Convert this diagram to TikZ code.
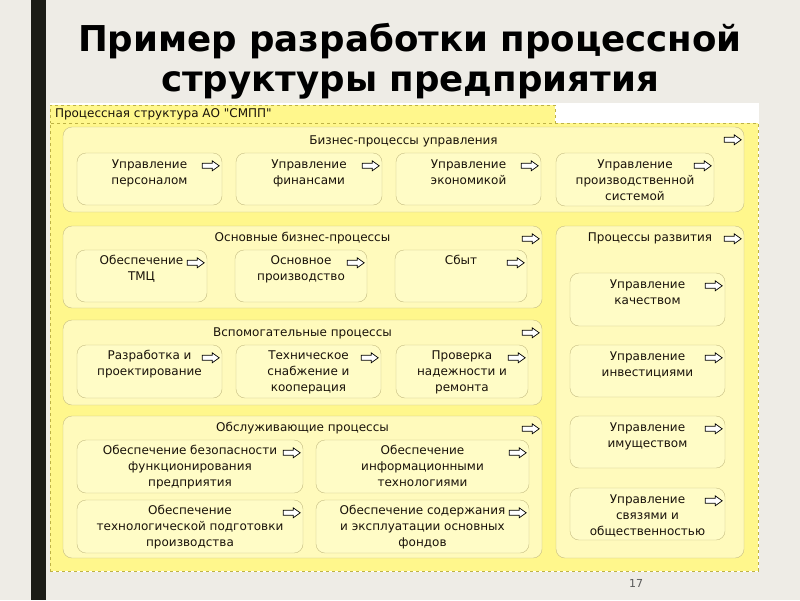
\documentclass[tikz,border=0pt]{standalone}
\usepackage{fontspec}
\setmainfont{DejaVu Sans}
\newfontfamily\tabfont{DejaVu Sans}
\usetikzlibrary{fit}
\definecolor{slidebg}{RGB}{238,236,230}
\definecolor{barcol}{RGB}{28,28,22}
\definecolor{bigyel}{RGB}{255,247,140}
\definecolor{dashcol}{RGB}{190,178,70}
\definecolor{grpfill}{RGB}{255,250,188}
\definecolor{boxfill}{RGB}{255,252,198}
\definecolor{grpline}{RGB}{196,188,130}
\definecolor{txtcol}{RGB}{25,18,10}
% small outlined arrow in the upper right corner of a process
\newcommand{\procarr}[1]{\draw[arr,shift={(#1.north east)}] (-3,13) -- (-10,8) -- (-10,10.5) -- (-20,10.5) -- (-20,15.5) -- (-10,15.5) -- (-10,18) -- cycle;}
\begin{document}
\begin{tikzpicture}[x=1pt,y=-1pt,
  grp/.style={draw=grpline,fill=grpfill,rounded corners=9pt,inner sep=0pt},
  box/.style={draw=grpline,fill=boxfill,rounded corners=9pt,inner sep=0pt},
  txt/.style={font=\fontsize{12}{16}\selectfont,text=txtcol,align=center,anchor=north,inner sep=0pt},
  ttl/.style={font=\fontsize{12}{16}\selectfont,text=txtcol,anchor=base,inner sep=0pt},
  arr/.style={draw=black,fill=white,line width=0.7pt}]
\useasboundingbox (0,0) rectangle (800,600);
\fill[slidebg] (0,0) rectangle (800,600);
\fill[barcol] (31,0) rectangle (46,600);
\node[font=\fontsize{35.6}{40}\selectfont\bfseries,align=center] (title) at (410,61) {Пример разработки процессной\\структуры предприятия};
\fill[white] (50,103) rectangle (759,572);

% outer frame with its tab
\node[fill=bigyel,draw=dashcol,dashed,inner sep=0pt,fit={(50,105)(555,123)}] (tab) {};
\node[fill=bigyel,draw=dashcol,dashed,inner sep=0pt,fit={(50,123)(758,571)}] (frame) {};
\node[font=\tabfont\fontsize{12}{14}\selectfont,text=txtcol,anchor=west,inner sep=0pt] (tabtxt) at ([xshift=5pt]tab.west) {Процессная структура АО "СМПП"};

% groups
\node[grp,fit={(63,127)(744,212)}] (g1) {};
\node[ttl] at ([yshift=-18pt]g1.north) {Бизнес-процессы управления};
\procarr{g1}
\node[grp,fit={(63,226)(542,308)}] (g2) {};
\node[ttl] at ([yshift=-16pt]g2.north) {Основные бизнес-процессы};
\procarr{g2}
\node[grp,fit={(63,320)(542,405)}] (g3) {};
\node[ttl] at ([yshift=-17pt]g3.north) {Вспомогательные процессы};
\procarr{g3}
\node[grp,fit={(63,416)(542,558)}] (g4) {};
\node[ttl] at ([yshift=-16pt]g4.north) {Обслуживающие процессы};
\procarr{g4}
\node[grp,fit={(556,226)(744,558)}] (g5) {};
\node[ttl] at ([yshift=-16pt]g5.north) {Процессы развития};
\procarr{g5}

% management
\node[box,fit={(77,153)(222,205)}] (b1) {};
\node[txt] at ([yshift=-6.5pt]b1.north) {Управление\\персоналом};
\node[box,fit={(236,153)(382,205)}] (b2) {};
\node[txt] at ([yshift=-6.5pt]b2.north) {Управление\\финансами};
\node[box,fit={(396,153)(541,205)}] (b3) {};
\node[txt] at ([yshift=-6.5pt]b3.north) {Управление\\экономикой};
\node[box,fit={(556,153)(714,206)}] (b4) {};
\node[txt] at ([yshift=-6.5pt]b4.north) {Управление\\производственной\\системой};

% main
\node[box,fit={(76,250)(207,302)}] (c1) {};
\node[txt] at ([yshift=-5.5pt]c1.north) {Обеспечение\\ТМЦ};
\node[box,fit={(235,250)(367,302)}] (c2) {};
\node[txt] at ([yshift=-5.5pt]c2.north) {Основное\\производство};
\node[box,fit={(395,250)(527,302)}] (c3) {};
\node[txt] at ([yshift=-5.5pt]c3.north) {Сбыт};

% support
\node[box,fit={(77,345)(222,398)}] (d1) {};
\node[txt] at ([yshift=-5.5pt]d1.north) {Разработка и\\проектирование};
\node[box,fit={(236,345)(381,398)}] (d2) {};
\node[txt] at ([yshift=-5.5pt]d2.north) {Техническое\\снабжение и\\кооперация};
\node[box,fit={(396,345)(528,398)}] (d3) {};
\node[txt] at ([yshift=-5.5pt]d3.north) {Проверка\\надежности и\\ремонта};

% service
\node[box,fit={(77,440)(303,493)}] (e1) {};
\node[txt] at ([yshift=-5.5pt]e1.north) {Обеспечение безопасности\\функционирования\\предприятия};
\node[box,fit={(77,500)(303,553)}] (e2) {};
\node[txt] at ([yshift=-5.5pt]e2.north) {Обеспечение\\технологической подготовки\\производства};
\node[box,fit={(316,440)(529,493)}] (e3) {};
\node[txt] at ([yshift=-5.5pt]e3.north) {Обеспечение\\информационными\\технологиями};
\node[box,fit={(316,500)(529,553)}] (e4) {};
\node[txt] at ([yshift=-5.5pt]e4.north) {Обеспечение содержания\\и эксплуатации основных\\фондов};

% development
\node[box,fit={(570,273)(725,326)}] (f1) {};
\node[txt] at ([yshift=-6.5pt]f1.north) {Управление\\качеством};
\node[box,fit={(570,345)(725,397)}] (f2) {};
\node[txt] at ([yshift=-6.5pt]f2.north) {Управление\\инвестициями};
\node[box,fit={(570,416)(725,468)}] (f3) {};
\node[txt] at ([yshift=-6.5pt]f3.north) {Управление\\имуществом};
\node[box,fit={(570,488)(725,540)}] (f4) {};
\node[txt] at ([yshift=-6.5pt]f4.north) {Управление\\связями и\\общественностью};

\foreach \p in {b1,b2,b3,b4,c1,c2,c3,d1,d2,d3,e1,e2,e3,e4,f1,f2,f3,f4}
  {\procarr{\p}}

\node[font=\fontsize{11}{13}\selectfont,text=black!65] (pnum) at (636,583) {17};
\end{tikzpicture}
\end{document}
